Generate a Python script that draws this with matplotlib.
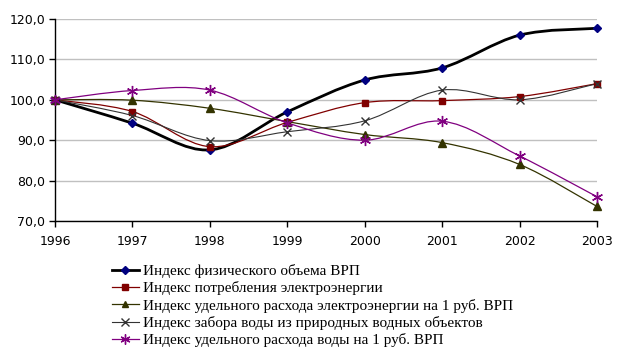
import matplotlib
matplotlib.use("Agg")
import matplotlib.pyplot as plt
from matplotlib.path import Path
from matplotlib.patches import PathPatch
from matplotlib.lines import Line2D
from matplotlib.ticker import FuncFormatter

years = [1996, 1997, 1998, 1999, 2000, 2001, 2002, 2003]
vrp = [100.0, 94.2, 87.6, 97.0, 104.9, 107.9, 116.0, 117.7]
elec = [100.0, 97.1, 88.4, 94.4, 99.3, 99.8, 100.8, 104.0]
elec_spec = [100.0, 99.9, 97.9, 94.6, 91.4, 89.4, 84.0, 73.6]
water = [100.0, 96.1, 89.9, 92.1, 94.8, 102.4, 100.0, 104.0]
water_spec = [100.0, 102.3, 102.4, 94.3, 90.0, 94.7, 86.1, 76.0]

labels = [
    "Индекс физического объема ВРП",
    "Индекс потребления электроэнергии",
    "Индекс удельного расхода электроэнергии на 1 руб. ВРП",
    "Индекс забора воды из природных водных объектов",
    "Индекс удельного расхода воды на 1 руб. ВРП",
]

series = [vrp, elec, elec_spec, water, water_spec]
styles = [
    dict(color="#000000", lw=2.0, marker="D", mfc="#000080", mec="#000080", ms=4.5),
    dict(color="#800000", lw=0.9, marker="s", mfc="#800000", mec="#800000", ms=5),
    dict(color="#333300", lw=0.9, marker="^", mfc="#333300", mec="#333300", ms=5.5),
    dict(color="#333333", lw=0.8, marker="x", mfc="#333333", mec="#333333", ms=6),
    dict(color="#800080", lw=0.9, marker=(6, 2, 0), mfc="#800080", mec="#800080", ms=8),
]

fig = plt.figure(figsize=(6.2, 3.54), dpi=100)
W, H = 620, 354
ax = fig.add_axes([55 / W, 1 - 221 / H, (597 - 55) / W, (221 - 19) / H])


def smooth_path(xs, ys):
    n = len(xs)
    verts = [(xs[0], ys[0])]
    codes = [Path.MOVETO]
    for i in range(n - 1):
        x0, y0 = (xs[i - 1], ys[i - 1]) if i > 0 else (xs[i], ys[i])
        x1, y1 = xs[i], ys[i]
        x2, y2 = xs[i + 1], ys[i + 1]
        x3, y3 = (xs[i + 2], ys[i + 2]) if i + 2 < n else (xs[i + 1], ys[i + 1])
        c1 = (x1 + (x2 - x0) / 6, y1 + (y2 - y0) / 6)
        c2 = (x2 - (x3 - x1) / 6, y2 - (y3 - y1) / 6)
        verts += [c1, c2, (x2, y2)]
        codes += [Path.CURVE4] * 3
    return Path(verts, codes)


handles = []
for ys, st, lab in zip(series, styles, labels):
    patch = PathPatch(smooth_path(years, ys), fill=False, edgecolor=st["color"],
                      lw=st["lw"], zorder=3, capstyle="round", joinstyle="round")
    ax.add_patch(patch)
    ax.plot(years, ys, linestyle="none", marker=st["marker"], mfc=st["mfc"],
            mec=st["mec"], ms=st["ms"], mew=1.0, zorder=4, clip_on=False)
    handles.append(Line2D([], [], color=st["color"], lw=st["lw"], marker=st["marker"],
                          mfc=st["mfc"], mec=st["mec"], ms=st["ms"] * 0.9, mew=1.0))

ax.set_xlim(1996, 2003)
ax.set_ylim(70, 120)
ax.set_yticks(range(70, 121, 10))
ax.set_xticks(years)
ax.yaxis.set_major_formatter(FuncFormatter(lambda v, p: f"{v:.1f}".replace(".", ",")))
ax.grid(axis="y", color="#c0c0c0", lw=1.0)
ax.set_axisbelow(True)
for s in ["top", "right"]:
    ax.spines[s].set_visible(False)
for s in ["left", "bottom"]:
    ax.spines[s].set_color("black")
    ax.spines[s].set_linewidth(1.0)
ax.tick_params(axis="both", direction="out", length=4, width=1.0, color="black",
               labelsize=9, labelcolor="#000000", pad=3)
ax.tick_params(axis="x", pad=6)
for t in ax.get_xticklabels() + ax.get_yticklabels():
    t.set_fontfamily("DejaVu Sans")

fig.legend(handles, labels, loc="upper left", bbox_to_anchor=(112 / W, 1 - 264 / H),
           frameon=False, prop={"family": "Liberation Serif", "size": 11},
           handlelength=1.75, handletextpad=0.25, labelspacing=0.22, borderpad=0,
           borderaxespad=0)

fig.savefig("out.png", dpi=100)
